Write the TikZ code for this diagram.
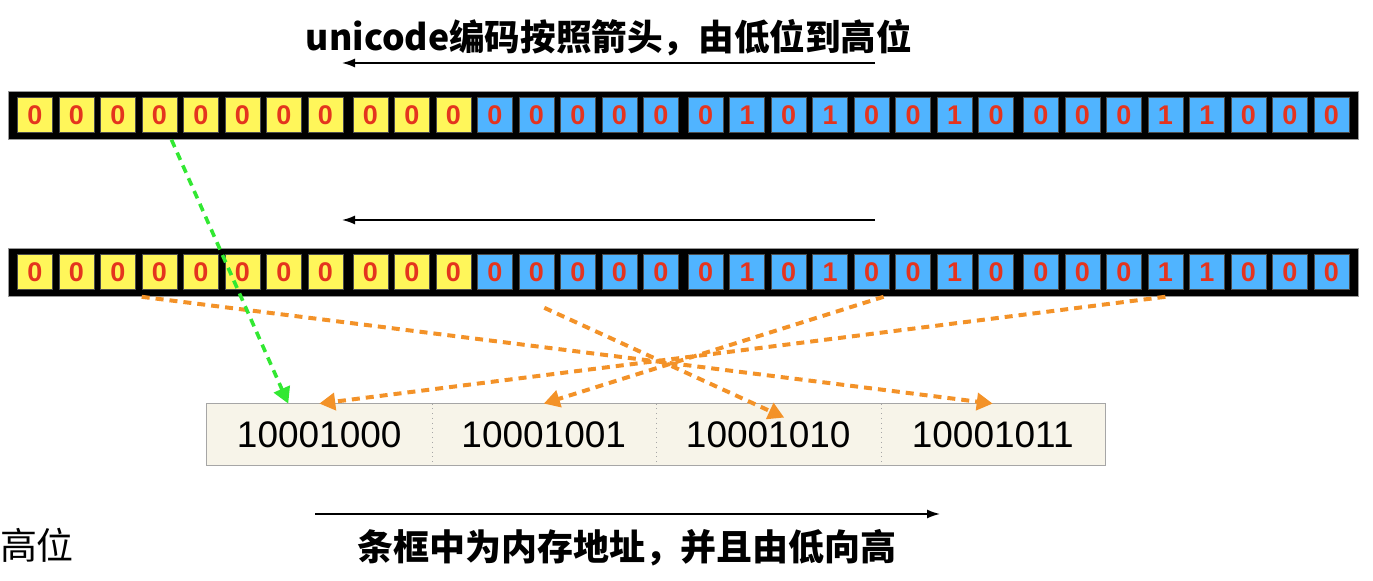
\documentclass[tikz,border=0pt]{standalone}
\usepackage{fontspec}
\setmainfont{Liberation Sans}
\newfontfamily\cjk{Noto Sans CJK SC}
\usetikzlibrary{arrows.meta}
\definecolor{bityellow}{RGB}{255,246,90}
\definecolor{bitblue}{RGB}{80,180,255}
\definecolor{bitred}{RGB}{228,52,30}
\definecolor{maporange}{RGB}{243,146,40}
\definecolor{mapgreen}{RGB}{50,232,50}
\definecolor{addrfill}{RGB}{247,244,233}

\begin{document}
\begin{tikzpicture}[x=0.5pt,y=-0.5pt]
\useasboundingbox (0,0) rectangle (1373,581);

% pitch of one bit and of one byte (px)
\def\sz{41.5}
\def\gp{335.3}
% node style definition
\tikzstyle{bit} = [
	draw=black!70, line width=0.3pt, rectangle, inner sep=0pt,
	minimum height=17.5pt, minimum width=17.5pt,
	text=bitred, font=\bfseries\fontsize{13.5}{13.5}\selectfont ];
\tikzstyle{ybit} = [bit, fill=bityellow];
\tikzstyle{bbit} = [bit, fill=bitblue];
\tikzstyle{bar} = [fill=black, draw=black!40, line width=0.4pt];
\tikzstyle{addr} = [
	fill=addrfill, inner sep=0pt,
	minimum width=112.25pt, minimum height=30.5pt,
	font=\fontsize{18.5}{18.5}\selectfont ];
\tikzstyle{flow} = [line width=0.8pt, -{Latex[length=6.5pt,width=4.5pt]}];
\tikzstyle{mapo} = [maporange, line width=2pt, dash pattern=on 4pt off 3pt,
	-{Triangle[length=8pt,width=8.5pt]}];
\tikzstyle{mapg} = [mapo, mapgreen, line width=1.8pt];

\node (title) at (609,38) {\cjk\bfseries\fontsize{17.8}{17.8}\selectfont unicode编码按照箭头，由低位到高位};
\coordinate (r1) at (875,63);
\coordinate (l1) at (342,63);
\draw[flow] (r1) -- (l1);

\draw[bar] (8,91) rectangle (1358,139);

\node[ybit] (a0) at (35+0*\gp+0*\sz,115) {0};
\node[ybit] (a1) at (35+0*\gp+1*\sz,115) {0};
\node[ybit] (a2) at (35+0*\gp+2*\sz,115) {0};
\node[ybit] (a3) at (35+0*\gp+3*\sz,115) {0};
\node[ybit] (a4) at (35+0*\gp+4*\sz,115) {0};
\node[ybit] (a5) at (35+0*\gp+5*\sz,115) {0};
\node[ybit] (a6) at (35+0*\gp+6*\sz,115) {0};
\node[ybit] (a7) at (35+0*\gp+7*\sz,115) {0};

\node[ybit] (a8) at (35+1*\gp+0*\sz,115) {0};
\node[ybit] (a9) at (35+1*\gp+1*\sz,115) {0};
\node[ybit] (a10) at (35+1*\gp+2*\sz,115) {0};
\node[bbit] (a11) at (35+1*\gp+3*\sz,115) {0};
\node[bbit] (a12) at (35+1*\gp+4*\sz,115) {0};
\node[bbit] (a13) at (35+1*\gp+5*\sz,115) {0};
\node[bbit] (a14) at (35+1*\gp+6*\sz,115) {0};
\node[bbit] (a15) at (35+1*\gp+7*\sz,115) {0};

\node[bbit] (a16) at (35+2*\gp+0*\sz,115) {0};
\node[bbit] (a17) at (35+2*\gp+1*\sz,115) {1};
\node[bbit] (a18) at (35+2*\gp+2*\sz,115) {0};
\node[bbit] (a19) at (35+2*\gp+3*\sz,115) {1};
\node[bbit] (a20) at (35+2*\gp+4*\sz,115) {0};
\node[bbit] (a21) at (35+2*\gp+5*\sz,115) {0};
\node[bbit] (a22) at (35+2*\gp+6*\sz,115) {1};
\node[bbit] (a23) at (35+2*\gp+7*\sz,115) {0};

\node[bbit] (a24) at (35+3*\gp+0*\sz,115) {0};
\node[bbit] (a25) at (35+3*\gp+1*\sz,115) {0};
\node[bbit] (a26) at (35+3*\gp+2*\sz,115) {0};
\node[bbit] (a27) at (35+3*\gp+3*\sz,115) {1};
\node[bbit] (a28) at (35+3*\gp+4*\sz,115) {1};
\node[bbit] (a29) at (35+3*\gp+5*\sz,115) {0};
\node[bbit] (a30) at (35+3*\gp+6*\sz,115) {0};
\node[bbit] (a31) at (35+3*\gp+7*\sz,115) {0};

\coordinate (r2) at (875,220);
\coordinate (l2) at (342,220);
\draw[flow] (r2) -- (l2);

\draw[bar] (8,248) rectangle (1358,296);

\node[ybit] (b0) at (35+0*\gp+0*\sz,272) {0};
\node[ybit] (b1) at (35+0*\gp+1*\sz,272) {0};
\node[ybit] (b2) at (35+0*\gp+2*\sz,272) {0};
\node[ybit] (b3) at (35+0*\gp+3*\sz,272) {0};
\node[ybit] (b4) at (35+0*\gp+4*\sz,272) {0};
\node[ybit] (b5) at (35+0*\gp+5*\sz,272) {0};
\node[ybit] (b6) at (35+0*\gp+6*\sz,272) {0};
\node[ybit] (b7) at (35+0*\gp+7*\sz,272) {0};

\node[ybit] (b8) at (35+1*\gp+0*\sz,272) {0};
\node[ybit] (b9) at (35+1*\gp+1*\sz,272) {0};
\node[ybit] (b10) at (35+1*\gp+2*\sz,272) {0};
\node[bbit] (b11) at (35+1*\gp+3*\sz,272) {0};
\node[bbit] (b12) at (35+1*\gp+4*\sz,272) {0};
\node[bbit] (b13) at (35+1*\gp+5*\sz,272) {0};
\node[bbit] (b14) at (35+1*\gp+6*\sz,272) {0};
\node[bbit] (b15) at (35+1*\gp+7*\sz,272) {0};

\node[bbit] (b16) at (35+2*\gp+0*\sz,272) {0};
\node[bbit] (b17) at (35+2*\gp+1*\sz,272) {1};
\node[bbit] (b18) at (35+2*\gp+2*\sz,272) {0};
\node[bbit] (b19) at (35+2*\gp+3*\sz,272) {1};
\node[bbit] (b20) at (35+2*\gp+4*\sz,272) {0};
\node[bbit] (b21) at (35+2*\gp+5*\sz,272) {0};
\node[bbit] (b22) at (35+2*\gp+6*\sz,272) {1};
\node[bbit] (b23) at (35+2*\gp+7*\sz,272) {0};

\node[bbit] (b24) at (35+3*\gp+0*\sz,272) {0};
\node[bbit] (b25) at (35+3*\gp+1*\sz,272) {0};
\node[bbit] (b26) at (35+3*\gp+2*\sz,272) {0};
\node[bbit] (b27) at (35+3*\gp+3*\sz,272) {1};
\node[bbit] (b28) at (35+3*\gp+4*\sz,272) {1};
\node[bbit] (b29) at (35+3*\gp+5*\sz,272) {0};
\node[bbit] (b30) at (35+3*\gp+6*\sz,272) {0};
\node[bbit] (b31) at (35+3*\gp+7*\sz,272) {0};

% memory addresses
\node[addr] (m0) at (319.25,434.5) {10001000};
\node[addr] (m1) at (543.75,434.5) {10001001};
\node[addr] (m2) at (768.25,434.5) {10001010};
\node[addr] (m3) at (992.75,434.5) {10001011};
\draw[black!35, line width=0.5pt] (m0.north west) rectangle (m3.south east);
\draw[black!35, dotted] (m0.north east) -- (m0.south east);
\draw[black!35, dotted] (m1.north east) -- (m1.south east);
\draw[black!35, dotted] (m2.north east) -- (m2.south east);

\draw[mapo] ([yshift=-3.5pt]b3.south west) -- (m3.north);
\draw[mapo] ([xshift=4pt,yshift=-9pt]b12.south) -- ([xshift=8pt,yshift=-7pt]m2.north);
\draw[mapo] ([xshift=6pt,yshift=-3.5pt]b20.south) -- (m1.north);
\draw[mapo] ([yshift=-3.5pt]b27.south) -- (m0.north);
\draw[mapg] ([xshift=6pt,yshift=-3.5pt]a3.south) -- ([xshift=-15.5pt]m0.north);

\coordinate (l3) at (315,514);
\coordinate (r3) at (940,514);
\draw[flow] (l3) -- (r3);
\node (high) at (37,545) {\cjk\fontsize{18.5}{18.5}\selectfont 高位};
\node (note) at (627,548) {\cjk\bfseries\fontsize{18}{18}\selectfont 条框中为内存地址，并且由低向高};

\end{tikzpicture}
\end{document}
